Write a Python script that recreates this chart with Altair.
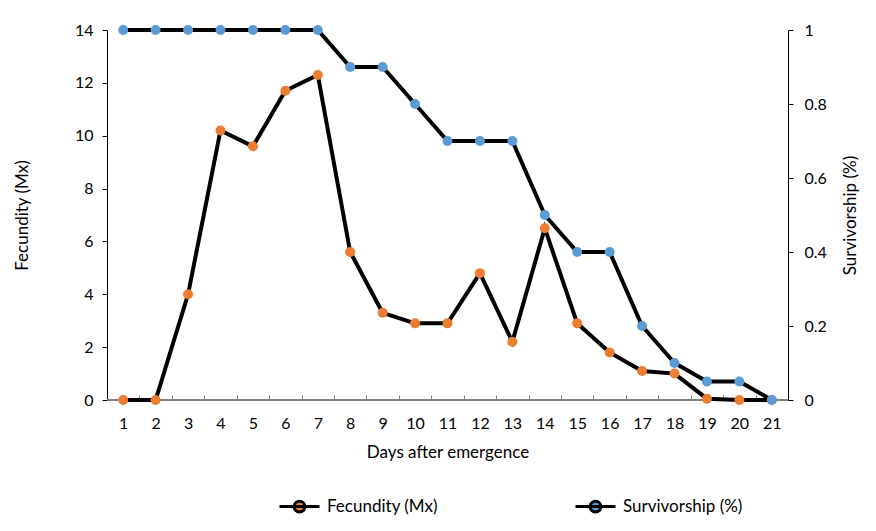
import altair as alt
import pandas as pd

days = list(range(1, 22))
fecundity = [0, 0, 4.0, 10.2, 9.6, 11.7, 12.3, 5.6, 3.3, 2.9, 2.9, 4.8, 2.2, 6.5, 2.9, 1.8, 1.1, 1.0, 0.05, 0, 0]
survivorship = [1, 1, 1, 1, 1, 1, 1, 0.9, 0.9, 0.8, 0.7, 0.7, 0.7, 0.5, 0.4, 0.4, 0.2, 0.1, 0.05, 0.05, 0]
series_names = ["Fecundity (Mx)", "Survivorship (%)"]
series_colors = ["#ED7D31", "#5B9BD5"]
left_ticks = [0, 2, 4, 6, 8, 10, 12, 14]
right_ticks = [0, 0.2, 0.4, 0.6, 0.8, 1]
x_title = "Days after emergence"
left_title = "Fecundity (Mx)"
right_title = "Survivorship (%)"

df = pd.DataFrame({
    "day": days * 2,
    "value": fecundity + survivorship,
    "series": [series_names[0]] * len(days) + [series_names[1]] * len(days),
})

FONT = "Lato"

x_enc = alt.X(
    "day:O",
    scale=alt.Scale(type="band", paddingInner=0, paddingOuter=0),
    axis=alt.Axis(
        title=x_title, labelAngle=0, tickBand="extent", offset=-5,
        domain=False, tickSize=5, tickColor="#7f7f7f", tickWidth=1,
        labelPadding=15, titlePadding=13, labelFontSize=16, titleFontSize=17,
    ),
)

fill_enc = alt.Fill(
    "series:N",
    scale=alt.Scale(domain=series_names, range=series_colors),
    legend=alt.Legend(
        title=None, orient="none", direction="horizontal", legendX=171, legendY=455,
        symbolType="M-1,0 L1,0 M-0.27,0 A0.27,0.27 0 1,1 0.27,0 A0.27,0.27 0 1,1 -0.27,0 Z",
        symbolSize=1600, symbolStrokeColor="black", symbolStrokeWidth=3,
        symbolOpacity=1, labelFontSize=17, labelFont=FONT, labelColor="black",
        columnPadding=130, labelOffset=6,
    ),
)

y_left = alt.Y(
    "value:Q",
    scale=alt.Scale(domain=[0, 14], nice=False),
    axis=alt.Axis(title=left_title, values=left_ticks, tickSize=5,
                  domainColor="black", tickColor="black", labelPadding=9,
                  titlePadding=43, labelFontSize=16, titleFontSize=17),
)
y_right = alt.Y(
    "value:Q",
    scale=alt.Scale(domain=[0, 1], nice=False),
    axis=alt.Axis(title=right_title, orient="right", values=right_ticks, format="~g",
                  tickSize=5, domainColor="black", tickColor="black",
                  labelPadding=11, titlePadding=33, titleAngle=270,
                  labelFontSize=16, titleFontSize=17),
)

base = alt.Chart(df)

f_base = base.transform_filter(alt.datum.series == series_names[0])
s_base = base.transform_filter(alt.datum.series == series_names[1])

x_rule = f_base.mark_rule(color="#7f7f7f", strokeWidth=1.3).encode(y=alt.datum(0))
f_line = f_base.mark_line(color="black", strokeWidth=4).encode(x=x_enc, y=y_left)
f_pts = f_base.mark_circle(size=100, opacity=1).encode(x=x_enc, y=y_left, fill=fill_enc)

s_line = s_base.mark_line(color="black", strokeWidth=4).encode(x=x_enc, y=y_right)
s_pts = s_base.mark_circle(size=100, opacity=1).encode(x=x_enc, y=y_right, fill=fill_enc)

left = alt.layer(x_rule, f_line, f_pts)
right = alt.layer(s_line, s_pts)

chart = (
    alt.layer(left, right)
    .resolve_scale(y="independent")
    .properties(width=681, height=370, padding={"left": 5, "top": 14, "right": 5, "bottom": 5})
    .configure_axis(labelFont=FONT, titleFont=FONT,
                    titleFontWeight="normal", labelColor="black", titleColor="black", grid=False)
    .configure_view(stroke="transparent")
)

chart.save("out.html", embed_options={"renderer": "svg", "actions": False})
